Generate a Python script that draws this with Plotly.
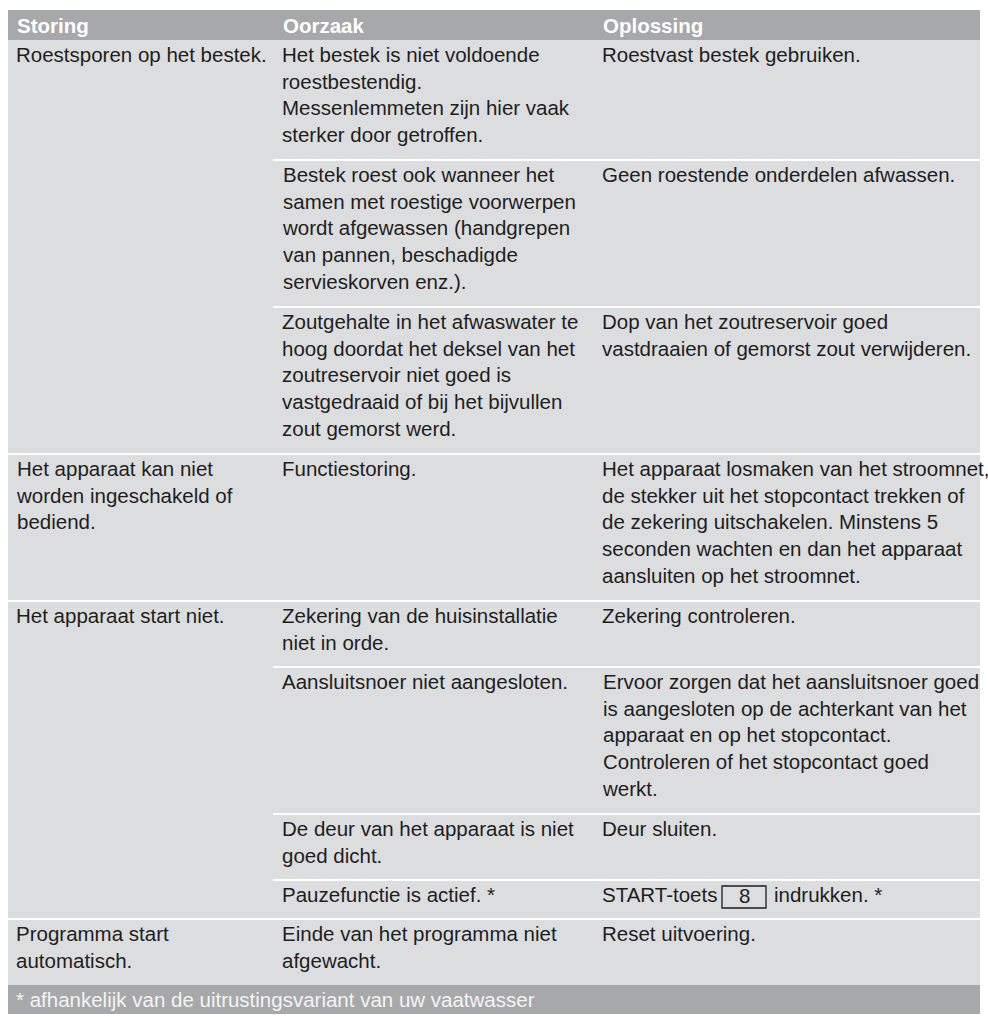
import re
import plotly.graph_objects as go

# ---------------- data ----------------
headers = ["Storing", "Oorzaak", "Oplossing"]

storingen = [
    "Roestsporen op het bestek.",
    "Het apparaat kan niet<br>worden ingeschakeld of<br>bediend.",
    "Het apparaat start niet.",
    "Programma start<br>automatisch.",
]

oorzaken = [
    [
        "Het bestek is niet voldoende<br>roestbestendig.<br>Messenlemmeten zijn hier vaak<br>sterker door getroffen.",
        "Bestek roest ook wanneer het<br>samen met roestige voorwerpen<br>wordt afgewassen (handgrepen<br>van pannen, beschadigde<br>servieskorven enz.).",
        "Zoutgehalte in het afwaswater te<br>hoog doordat het deksel van het<br>zoutreservoir niet goed is<br>vastgedraaid of bij het bijvullen<br>zout gemorst werd.",
    ],
    ["Functiestoring."],
    [
        "Zekering van de huisinstallatie<br>niet in orde.",
        "Aansluitsnoer niet aangesloten.",
        "De deur van het apparaat is niet<br>goed dicht.",
        "Pauzefunctie is actief. *",
    ],
    ["Einde van het programma niet<br>afgewacht."],
]

oplossingen = [
    [
        "Roestvast bestek gebruiken.",
        "Geen roestende onderdelen afwassen.",
        "Dop van het zoutreservoir goed<br>vastdraaien of gemorst zout verwijderen.",
    ],
    [
        "Het apparaat losmaken van het stroomnet,<br>de stekker uit het stopcontact trekken of<br>de zekering uitschakelen. Minstens 5<br>seconden wachten en dan het apparaat<br>aansluiten op het stroomnet."
    ],
    [
        "Zekering controleren.",
        "Ervoor zorgen dat het aansluitsnoer goed<br>is aangesloten op de achterkant van het<br>apparaat en op het stopcontact.<br>Controleren of het stopcontact goed<br>werkt.",
        "Deur sluiten.",
        "START-toets [8] indrukken. *",
    ],
    ["Reset uitvoering."],
]

voetnoot = "* afhankelijk van de uitrustingsvariant van uw vaatwasser"

# ---------------- style / layout ----------------
W, H = 988, 1017
LEFT, RIGHT = 8, 980
COL_X = [8, 273, 593]
TEXT_X = [15, 281, 601]
HEADER_TOP, HEADER_BOT = 10, 40
LINE_H = 27
PAD = 12
FOOTER_H = 29
HEAD_COL = "#a7a8aa"
BODY_COL = "#dcdddf"
TXT_COL = "#1e1e1e"
FONT = "Liberation Sans, Arial, Helvetica, sans-serif"
FS = 20.5


def nlines(s):
    return s.count("<br>") + 1


shapes = []
annotations = []


def rect(x0, y0, x1, y1, color, line=None, layer="below"):
    shapes.append(dict(type="rect", xref="x", yref="y", x0=x0, x1=x1, y0=y0, y1=y1,
                       fillcolor=color, line=line or dict(width=0), layer=layer))


def hline(x0, x1, y):
    shapes.append(dict(type="line", xref="x", yref="y", x0=x0, x1=x1, y0=y, y1=y,
                       line=dict(color="white", width=2), layer="above"))


def text(x, y, s, color=TXT_COL, bold=False, anchor="top", xanchor="left", size=FS):
    annotations.append(dict(x=x, y=y, xref="x", yref="y", text=s, showarrow=False,
                            xanchor=xanchor, yanchor=anchor, align="left", borderpad=0,
                            font=dict(family=FONT, size=size, color=color,
                                      weight="bold" if bold else "normal")))


def cell_text(x, top, s):
    m = re.match(r"^(.*)\[(.+)\](.*)$", s)
    if not m:
        text(x, top, s)
        return
    pre, key, post = m.groups()
    text(x, top, pre.strip())
    rect(722, top + 4, 766, top + 26, "rgba(0,0,0,0)",
         line=dict(color=TXT_COL, width=1.3), layer="above")
    text(744, top + 13, key, anchor="middle", xanchor="center")
    text(773, top, post.strip())


# header
rect(LEFT, HEADER_TOP, RIGHT, HEADER_BOT, HEAD_COL)
for i, h in enumerate(headers):
    text(TEXT_X[i] + 1, (HEADER_TOP + HEADER_BOT) / 2, h, color="white", bold=True, anchor="middle")

# body
y = HEADER_BOT
for g, storing in enumerate(storingen):
    subs = list(zip(oorzaken[g], oplossingen[g]))
    heights = []
    for k, (o, p) in enumerate(subs):
        n = max(nlines(o), nlines(p))
        if len(subs) == 1:
            n = max(n, nlines(storing))
        heights.append(n * LINE_H + PAD)
    g_top = y
    g_bot = y + sum(heights)
    rect(LEFT, g_top, RIGHT, g_bot, BODY_COL)
    text(TEXT_X[0], g_top + 2, storing)
    sy = g_top
    for k, ((o, p), h) in enumerate(zip(subs, heights)):
        if k > 0:
            hline(COL_X[1], RIGHT, sy)
        text(TEXT_X[1], sy + 2, o)
        cell_text(TEXT_X[2], sy + 2, p)
        sy += h
    if g > 0:
        hline(LEFT, RIGHT, g_top)
    y = g_bot

# footer
rect(LEFT, y, RIGHT, y + FOOTER_H, HEAD_COL)
text(TEXT_X[0], y + FOOTER_H / 2, voetnoot, color="#f4f4f4", anchor="middle")

fig = go.Figure()
fig.add_trace(go.Scatter(x=[], y=[], mode="markers", showlegend=False, hoverinfo="skip"))
fig.update_layout(
    width=W, height=H,
    margin=dict(l=0, r=0, t=0, b=0),
    paper_bgcolor="white", plot_bgcolor="white",
    xaxis=dict(range=[0, W], visible=False, fixedrange=True),
    yaxis=dict(range=[H, 0], visible=False, fixedrange=True),
    shapes=shapes, annotations=annotations, showlegend=False,
)
fig.write_html("out.html", config={"displayModeBar": False},
               post_script="document.body.style.margin='0';document.body.style.overflow='hidden';")
